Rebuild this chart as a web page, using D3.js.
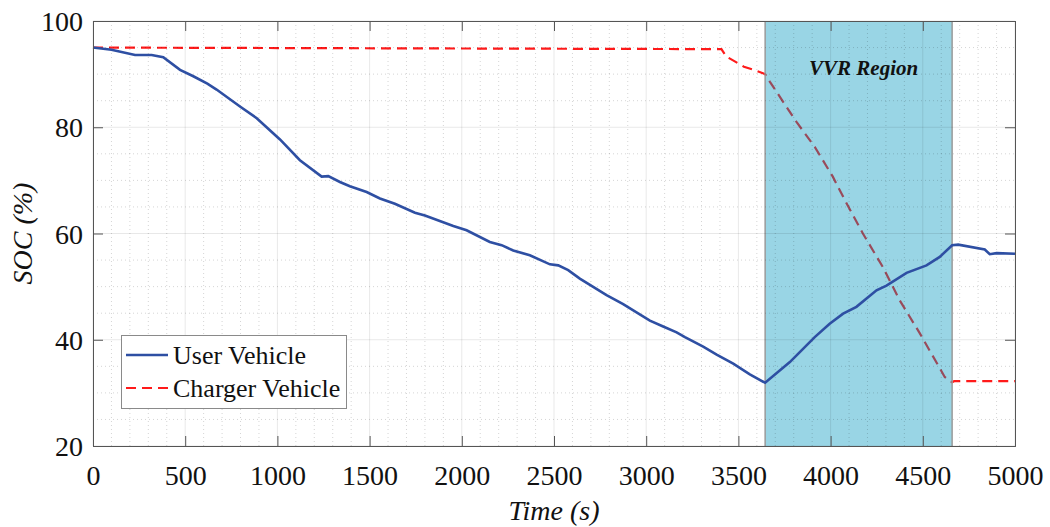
<html>
	<head>
		<script type="text/javascript" src="https://cdn.jsdelivr.net/npm/d3@7"></script>
		<style>
			body { margin: 0; background: #fff; }
			text { font-family: "Liberation Serif", "DejaVu Serif", serif; fill: #111; }
		</style>
	</head>
	<body>
		<script type="text/javascript">

			// data
			var userTime = [0, 100, 228, 318, 381, 472, 544, 620, 670, 797, 888, 1014, 1122, 1240, 1276, 1339, 1393, 1484, 1556, 1637, 1746, 1800, 1954, 2026, 2152, 2216, 2279, 2369, 2478, 2523, 2577, 2640, 2785, 2875, 3020, 3092, 3165, 3210, 3309, 3382, 3472, 3562, 3645, 3779, 3914, 3995, 4068, 4140, 4249, 4303, 4412, 4520, 4592, 4659, 4692, 4836, 4863, 4900, 5000];
			var userSoc  = [95.0, 94.6, 93.6, 93.6, 93.2, 90.8, 89.6, 88.2, 87.1, 83.9, 81.7, 77.7, 73.8, 70.7, 70.8, 69.7, 68.9, 67.8, 66.6, 65.6, 63.9, 63.4, 61.4, 60.6, 58.4, 57.8, 56.8, 55.9, 54.2, 54.0, 53.1, 51.5, 48.4, 46.7, 43.6, 42.5, 41.4, 40.5, 38.7, 37.2, 35.5, 33.5, 31.9, 35.8, 40.5, 43.0, 44.9, 46.2, 49.3, 50.2, 52.6, 54.0, 55.6, 57.8, 57.9, 57.0, 56.1, 56.3, 56.2];

			var chargerTime = [0, 3408, 3435, 3485, 3530, 3584, 3645, 3670, 3815, 3914, 4012, 4077, 4175, 4283, 4375, 4484, 4619, 4659, 4670, 5000];
			var chargerSoc  = [95.0, 94.7, 93.3, 92.3, 91.4, 90.8, 90.0, 88.6, 81.0, 76.3, 70.7, 66.3, 60.0, 53.7, 47.4, 41.2, 33.0, 32.0, 32.2, 32.2];

			var vvrRegion = [3645, 4659];
			var xTicks = [0, 500, 1000, 1500, 2000, 2500, 3000, 3500, 4000, 4500, 5000];
			var yTicks = [20, 40, 60, 80, 100];
			var seriesNames = ['User Vehicle', 'Charger Vehicle'];

			var width = 1050,
				height = 527,
				margin = {left: 93, right: 35, top: 21, bottom: 81};

			var x = d3.scaleLinear()
				.domain([0, 5000])
				.range([margin.left, width - margin.right]);

			var y = d3.scaleLinear()
				.domain([20, 100])
				.range([height - margin.bottom, margin.top]);

			var svg = d3.select('body').append('svg')
				.attr('width', width)
				.attr('height', height);

			var line = d3.line()
				.x(function(d){ return x(d[0]); })
				.y(function(d){ return y(d[1]); });

			var user = userTime.map(function(t, i){ return [t, userSoc[i]]; });
			var charger = chargerTime.map(function(t, i){ return [t, chargerSoc[i]]; });

			// charger line goes under the shaded patch
			svg.append('path')
				.datum(charger)
				.attr('d', line)
				.attr('fill', 'none')
				.attr('stroke', '#ff1a1a')
				.attr('stroke-width', 2.2)
				.attr('stroke-dasharray', '10,6');

			// VVR region
			svg.append('rect')
				.attr('x', x(vvrRegion[0]))
				.attr('y', y(100))
				.attr('width', x(vvrRegion[1]) - x(vvrRegion[0]))
				.attr('height', y(20) - y(100))
				.attr('fill', 'rgb(0,150,190)')
				.attr('fill-opacity', 0.4);

			[vvrRegion[0], vvrRegion[1]].forEach(function(v){
				svg.append('line')
					.attr('x1', x(v)).attr('x2', x(v))
					.attr('y1', y(100)).attr('y2', y(20))
					.attr('stroke', '#9a9a9a')
					.attr('stroke-width', 1.5);
			});

			// minor grid
			var grid = svg.append('g');
			d3.range(100, 5000, 100).forEach(function(v){
				if (v % 500 === 0) return;
				grid.append('line')
					.attr('x1', x(v)).attr('x2', x(v))
					.attr('y1', y(100)).attr('y2', y(20))
					.attr('stroke', '#000').attr('stroke-opacity', 0.17)
					.attr('stroke-dasharray', '1,3');
			});
			d3.range(25, 100, 5).forEach(function(v){
				if (v % 20 === 0) return;
				grid.append('line')
					.attr('x1', x(0)).attr('x2', x(5000))
					.attr('y1', y(v)).attr('y2', y(v))
					.attr('stroke', '#000').attr('stroke-opacity', 0.17)
					.attr('stroke-dasharray', '1,3');
			});
			// major grid
			xTicks.forEach(function(v){
				grid.append('line')
					.attr('x1', x(v)).attr('x2', x(v))
					.attr('y1', y(100)).attr('y2', y(20))
					.attr('stroke', '#000').attr('stroke-opacity', 0.09);
			});
			yTicks.forEach(function(v){
				grid.append('line')
					.attr('x1', x(0)).attr('x2', x(5000))
					.attr('y1', y(v)).attr('y2', y(v))
					.attr('stroke', '#000').attr('stroke-opacity', 0.09);
			});

			svg.append('text')
				.attr('x', x((vvrRegion[0] + vvrRegion[1]) / 2) + 5)
				.attr('y', 75)
				.attr('text-anchor', 'middle')
				.style('font-size', '21px')
				.style('font-weight', 'bold')
				.style('font-style', 'italic')
				.text('VVR Region');

			// user line on top
			svg.append('path')
				.datum(user)
				.attr('d', line)
				.attr('fill', 'none')
				.attr('stroke', '#2e4fa3')
				.attr('stroke-width', 2.6);

			// axes (ticks inward, on all four sides)
			var tickLen = 10;
			var axisColor = '#555';

			var xBottom = svg.append('g')
				.attr('transform', 'translate(0,' + y(20) + ')')
				.call(d3.axisBottom(x).tickValues(xTicks).tickSize(-tickLen).tickPadding(24).tickFormat(d3.format('d')));
			var xTop = svg.append('g')
				.attr('transform', 'translate(0,' + y(100) + ')')
				.call(d3.axisTop(x).tickValues(xTicks).tickSize(-tickLen).tickFormat(''));
			var yLeft = svg.append('g')
				.attr('transform', 'translate(' + x(0) + ',0)')
				.call(d3.axisLeft(y).tickValues(yTicks).tickSize(-tickLen).tickPadding(10).tickFormat(d3.format('d')));
			var yRight = svg.append('g')
				.attr('transform', 'translate(' + x(5000) + ',0)')
				.call(d3.axisRight(y).tickValues(yTicks).tickSize(-tickLen).tickFormat(''));

			[xBottom, xTop, yLeft, yRight].forEach(function(g){
				g.select('.domain').attr('stroke', axisColor);
				g.selectAll('.tick line').attr('stroke', axisColor);
				g.selectAll('text')
					.attr('fill', '#111')
					.style('font-family', '"Liberation Serif", serif')
					.style('font-size', '28px');
			});
			xBottom.selectAll('.tick text').attr('dy', null).attr('y', 39);
			yLeft.selectAll('.tick text').attr('dy', '0.34em');

			// axis titles
			svg.append('text')
				.attr('x', (x(0) + x(5000)) / 2)
				.attr('y', 520)
				.attr('text-anchor', 'middle')
				.style('font-size', '28px')
				.style('font-style', 'italic')
				.text('Time (s)');

			svg.append('text')
				.attr('transform', 'translate(32,' + (y(20) + y(100)) / 2 + ') rotate(-90)')
				.attr('text-anchor', 'middle')
				.style('font-size', '28px')
				.style('font-style', 'italic')
				.text('SOC (%)');

			// legend
			var legend = svg.append('g');
			legend.append('rect')
				.attr('x', 121.5).attr('y', 335.5)
				.attr('width', 225).attr('height', 73)
				.attr('fill', '#fff')
				.attr('stroke', '#8a8a8a');
			legend.append('line')
				.attr('x1', 126).attr('x2', 168)
				.attr('y1', 355).attr('y2', 355)
				.attr('stroke', '#2e4fa3').attr('stroke-width', 2.6);
			legend.append('line')
				.attr('x1', 126).attr('x2', 170)
				.attr('y1', 388).attr('y2', 388)
				.attr('stroke', '#ff1a1a').attr('stroke-width', 2.2)
				.attr('stroke-dasharray', '10,6');
			legend.selectAll('text.lbl')
				.data(seriesNames)
				.enter().append('text')
				.attr('class', 'lbl')
				.attr('x', 173)
				.attr('y', function(d, i){ return 364 + i * 33; })
				.style('font-size', '26px')
				.text(function(d){ return d; });

		</script>
	</body>
</html>
